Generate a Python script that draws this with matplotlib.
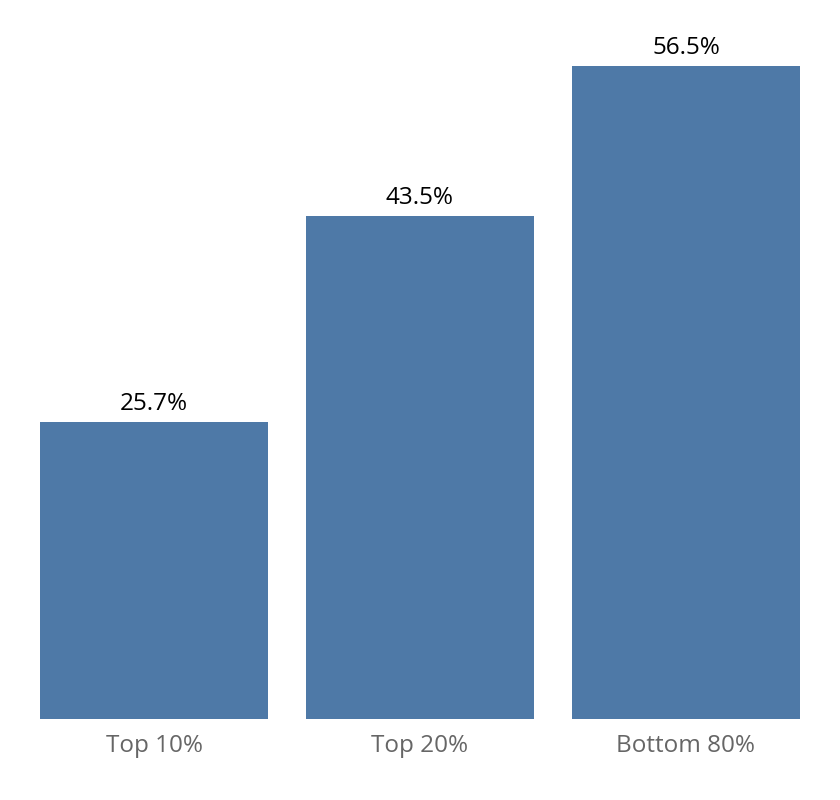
import matplotlib.pyplot as plt

categories = ['Top 10%', 'Top 20%', 'Bottom 80%']
shares = [25.7, 43.5, 56.5]
labels = ['25.7%', '43.5%', '56.5%']

plt.rcParams['font.family'] = ['Open Sans', 'DejaVu Sans']

fig = plt.figure(figsize=(8.4, 8.0), dpi=100)
# axes placed in pixel terms: bars span x 40..800, baseline at y 719
ax = fig.add_axes([40 / 840, (800 - 719) / 800, 760 / 840, 719 / 800])

w = 228 / 266
x = range(len(categories))
ax.bar(x, shares, width=w, color='#4e79a7')
ax.set_xlim(-w / 2, len(categories) - 1 + w / 2)
ax.set_ylim(0, 719 / (653 / 56.5))

for xi, v, lab in zip(x, shares, labels):
    ax.text(xi, v + 0.5, lab, ha='center', va='bottom', fontsize=17.5, color='black')

ax.set_xticks(list(x))
ax.set_xticklabels(categories, fontsize=17.5, color='#666666')
ax.tick_params(axis='x', length=0, pad=11)
ax.set_yticks([])
for s in ax.spines.values():
    s.set_visible(False)

fig.savefig('out.png', dpi=100)
